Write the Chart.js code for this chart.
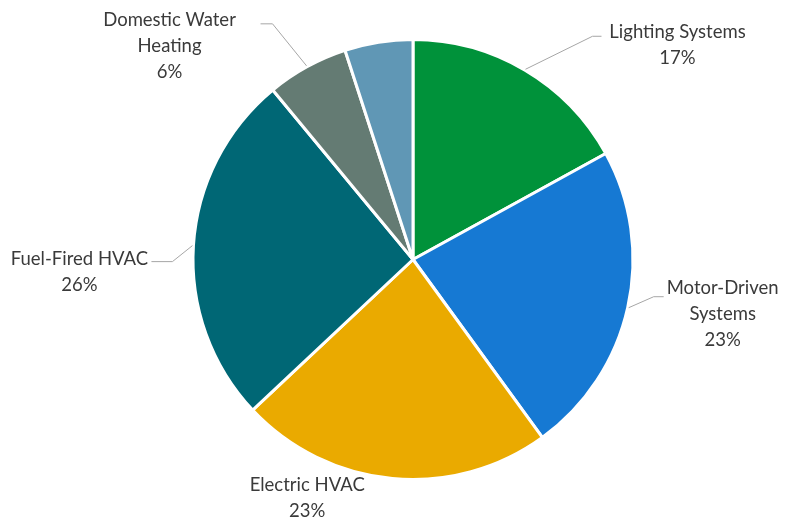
<!DOCTYPE html>
<html>
<head>
<meta charset="utf-8">
<title>Energy use by system</title>
<script src="https://cdn.jsdelivr.net/npm/chart.js@4.4.1/dist/chart.umd.min.js"></script>
<style>
  html, body { margin: 0; padding: 0; background: #ffffff; }
  #wrap { width: 794px; height: 519px; }
</style>
</head>
<body>
<div id="wrap"><canvas id="pie" width="794" height="519"></canvas></div>
<script>
// Données
const categories = ['Lighting Systems', 'Motor-Driven Systems', 'Electric HVAC', 'Fuel-Fired HVAC', 'Domestic Water Heating', 'Other'];
const shares = [17, 23, 23, 26, 6, 5];
// Texte des étiquettes, ligne par ligne (null = pas d'étiquette)
const labelLines = [
    ['Lighting Systems'],
    ['Motor-Driven', 'Systems'],
    ['Electric HVAC'],
    ['Fuel-Fired HVAC'],
    ['Domestic Water', 'Heating'],
    null
];
const sliceColors = ['#00923a', '#1679d3', '#eaaa00', '#006775', '#647b73', '#6097b5'];

// Placement des étiquettes, relatif au point du bord au milieu de la part
// text: centre du bloc de texte, elbow: coude de la ligne de rappel, end: fin de la ligne
const labelLayout = [
    { text: [152, -24], elbow: [67, -33], end: [76, -33] },
    { text: [94, 6], elbow: [25, -11], end: [35, -11] },
    { text: [-85, 19], elbow: null, end: null },
    { text: [-113, 26], elbow: [-20, 16], end: [-41, 16] },
    { text: [-137, -20], elbow: [-34, -42], end: [-46, -42] },
    null
];

const pieLabels = {
    id: 'pieLabels',
    afterDatasetsDraw(chart) {
        const ctx = chart.ctx;
        const meta = chart.getDatasetMeta(0);
        const total = shares.reduce((a, b) => a + b, 0);
        ctx.save();
        meta.data.forEach((arc, i) => {
            const lines = labelLines[i];
            const lay = labelLayout[i];
            if (!lines || !lay) return;
            const p = arc.getProps(['x', 'y', 'startAngle', 'endAngle', 'outerRadius'], true);
            const mid = (p.startAngle + p.endAngle) / 2;
            const ex = p.x + Math.cos(mid) * (p.outerRadius + 1);
            const ey = p.y + Math.sin(mid) * (p.outerRadius + 1);

            // Ligne de rappel
            if (lay.elbow) {
                ctx.beginPath();
                ctx.strokeStyle = '#a6a6a6';
                ctx.lineWidth = 1;
                ctx.moveTo(ex, ey);
                ctx.lineTo(ex + lay.elbow[0], ey + lay.elbow[1]);
                ctx.lineTo(ex + lay.end[0], ey + lay.end[1]);
                ctx.stroke();
            }

            // Texte
            const pct = Math.round(shares[i] / total * 100) + '%';
            const all = lines.concat([pct]);
            const lh = 26;
            const cx = ex + lay.text[0];
            const cy = ey + lay.text[1];
            ctx.fillStyle = '#3a3a3a';
            ctx.font = '18.5px Lato, "Open Sans", sans-serif';
            ctx.textAlign = 'center';
            ctx.textBaseline = 'middle';
            all.forEach((t, k) => {
                ctx.fillText(t, cx, cy + (k - (all.length - 1) / 2) * lh);
            });
        });
        ctx.restore();
    }
};

new Chart(document.getElementById('pie').getContext('2d'), {
    type: 'pie',
    data: {
        labels: categories,
        datasets: [{
            data: shares,
            backgroundColor: sliceColors,
            borderColor: '#ffffff',
            borderWidth: 3
        }]
    },
    options: {
        responsive: false,
        animation: false,
        layout: {
            padding: { top: 38, bottom: 38, left: 100, right: 68 }
        },
        plugins: {
            legend: { display: false },
            tooltip: { enabled: false }
        }
    },
    plugins: [pieLabels]
});
</script>
</body>
</html>
